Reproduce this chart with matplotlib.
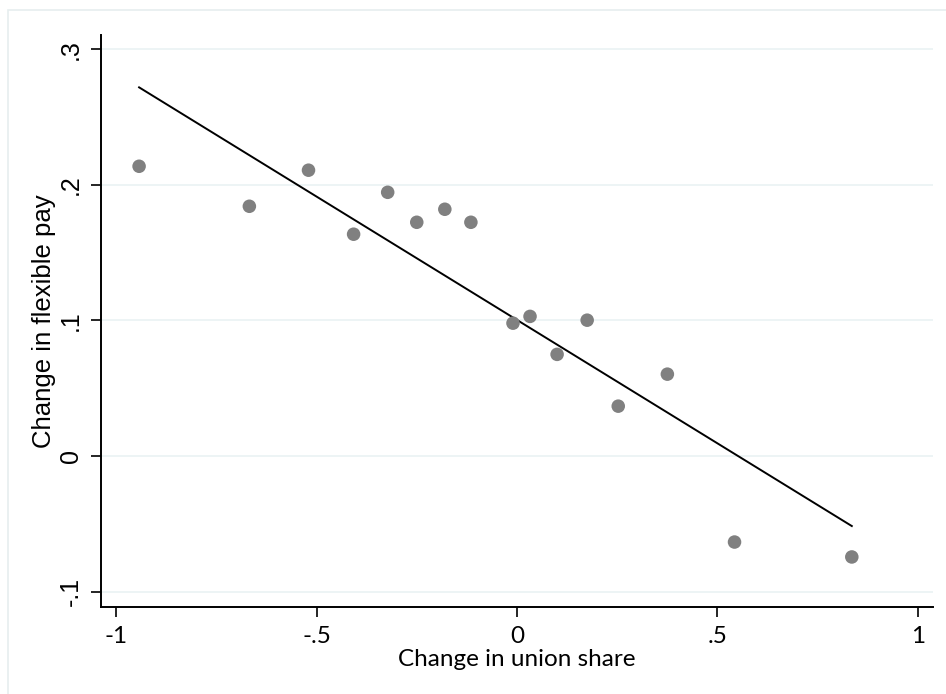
import matplotlib
matplotlib.use("Agg")
import matplotlib.pyplot as plt
from matplotlib.patches import Rectangle

# Data (binned scatter)
union_change = [-0.9425, -0.6675, -0.52, -0.4075, -0.3225, -0.25, -0.18, -0.115,
                -0.01, 0.0325, 0.10, 0.175, 0.2525, 0.375, 0.5425, 0.835]
flex_change = [0.2137, 0.1842, 0.2108, 0.1636, 0.1945, 0.1724, 0.182, 0.1724,
               0.098, 0.103, 0.075, 0.1002, 0.0368, 0.0604, -0.0634, -0.0744]
# Fitted line endpoints (from the underlying regression)
fit_x = [-0.9425, 0.835]
fit_y = [0.2719, -0.0516]

x_ticks = [-1, -0.5, 0, 0.5, 1]
x_ticklabels = ["-1", "-.5", "0", ".5", "1"]
y_ticks = [-0.1, 0, 0.1, 0.2, 0.3]
y_ticklabels = ["-.1", "0", ".1", ".2", ".3"]

plt.rcParams['font.family'] = ['Lato', 'DejaVu Sans']
rot_font = ['Liberation Sans', 'DejaVu Sans']

fig = plt.figure(figsize=(9.46, 6.94), dpi=100)
W, H = 946, 694
# outer light border
fig.patches.append(Rectangle((7.5 / W, -0.1), 1.2, 1 - 10.5 / H + 0.1,
                             transform=fig.transFigure, fill=False,
                             edgecolor="#e6eeef", linewidth=1.2))

ax = fig.add_axes([101 / W, 1 - 607 / H, (933 - 101) / W, (607 - 35) / H])
ax.set_xlim(-1.0375, 1.0375)
ax.set_ylim(-0.1113, 0.3105)

for yv in y_ticks:
    ax.axhline(yv, color="#eaf2f3", lw=1.2, zorder=0)

ax.scatter(union_change, flex_change, s=95, color="#808080", edgecolors="none", zorder=3)
ax.plot(fit_x, fit_y, color="black", lw=1.4, zorder=2)

ax.set_xticks(x_ticks)
ax.set_xticklabels(x_ticklabels, fontsize=17.5)
ax.set_yticks(y_ticks)
ax.set_yticklabels(y_ticklabels, fontsize=18, rotation=90, va="center",
                   family=rot_font)

for s in ["top", "right"]:
    ax.spines[s].set_visible(False)
for s in ["left", "bottom"]:
    ax.spines[s].set_linewidth(1.4)
ax.tick_params(direction="out", length=7, width=1.2)
ax.tick_params(axis="x", pad=7)
ax.tick_params(axis="y", pad=6)

ax.set_xlabel("Change in union share", fontsize=17.5, labelpad=1)
ax.set_ylabel("Change in flexible pay", fontsize=18.5, family=rot_font, labelpad=2)

fig.savefig("out.png", dpi=100)
